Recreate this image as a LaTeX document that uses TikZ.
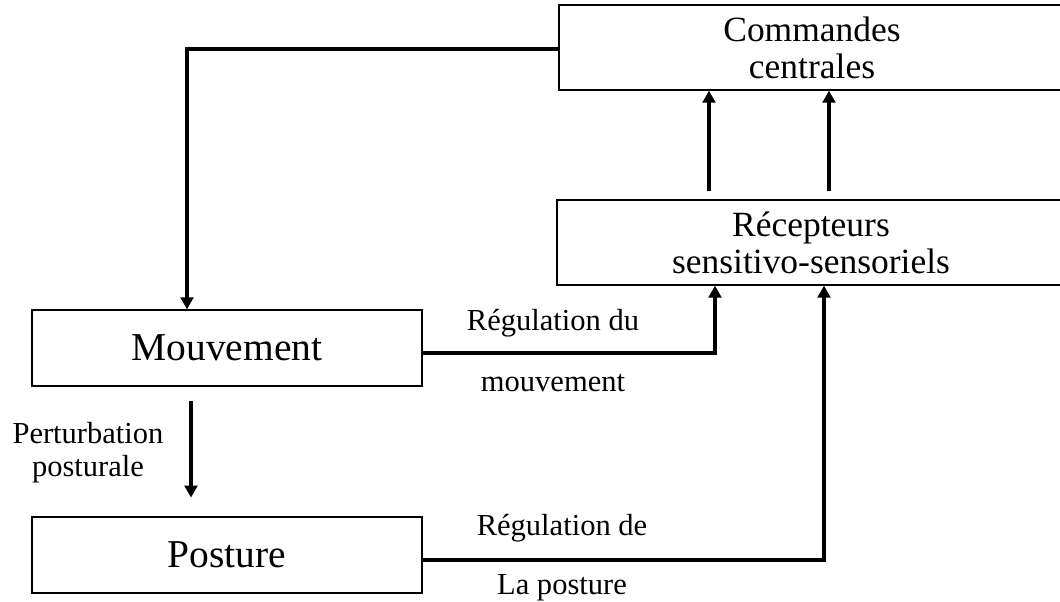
\documentclass[tikz,border=0pt]{standalone}
\usepackage{fontspec}
\setmainfont{Liberation Serif}
\usetikzlibrary{arrows.meta}
\begin{document}
\begin{tikzpicture}[x=0.75pt,y=-0.75pt,
        box/.style={draw,line width=1pt,inner sep=0pt,align=center},
        conn/.style={line width=3pt,-{Triangle[length=9pt,width=9.5pt]}},
        big/.style={font=\fontsize{29.6}{31}\selectfont},
        mid/.style={font=\fontsize{26.6}{27.8}\selectfont},
        small/.style={font=\fontsize{22.9}{24.8}\selectfont}]
    \useasboundingbox (0,0) rectangle (1060,602);
    % boxes
    \node[box,mid,minimum width=379.5pt,minimum height=63.75pt] (cmd) at (812,47.5) {Commandes\\centrales};
    \node[box,mid,minimum width=381pt,minimum height=63.75pt] (rec) at (811,242.5) {Récepteurs\\sensitivo-sensoriels};
    \node[box,big,minimum width=292.5pt,minimum height=57pt] (mvt) at (227,348) {Mouvement};
    \node[box,big,minimum width=292.5pt,minimum height=57pt] (pos) at (227,555) {Posture};
    % corners of the connectors
    \coordinate (tl) at (187,49);
    \coordinate (a1) at (709,0);
    \coordinate (a2) at (829,0);
    \coordinate (r1) at (715,353);
    \coordinate (r2) at (824,560);
    \coordinate (p1) at (191,0);
    \draw[conn] (cmd.west |- tl) -- (tl) -- (tl |- mvt.north);
    \draw[conn,shorten <=6pt] (rec.north -| a1) -- (cmd.south -| a1);
    \draw[conn,shorten <=6pt] (rec.north -| a2) -- (cmd.south -| a2);
    \draw[conn] (mvt.east |- r1) -- (r1) -- (r1 |- rec.south);
    \draw[conn] (pos.east |- r2) -- (r2) -- (r2 |- rec.south);
    \draw[conn,shorten <=11pt,shorten >=14pt] (mvt.south -| p1) -- (pos.north -| p1);
    % labels
    \node[small,align=center] (pert) at (88,453) {Perturbation\\posturale};
    \node[small] (rm1) at (553,323) {Régulation du};
    \node[small] (rm2) at (553,383) {mouvement};
    \node[small] (rp1) at (562,528) {Régulation de};
    \node[small] (rp2) at (562,588) {La posture};
\end{tikzpicture}
\end{document}
